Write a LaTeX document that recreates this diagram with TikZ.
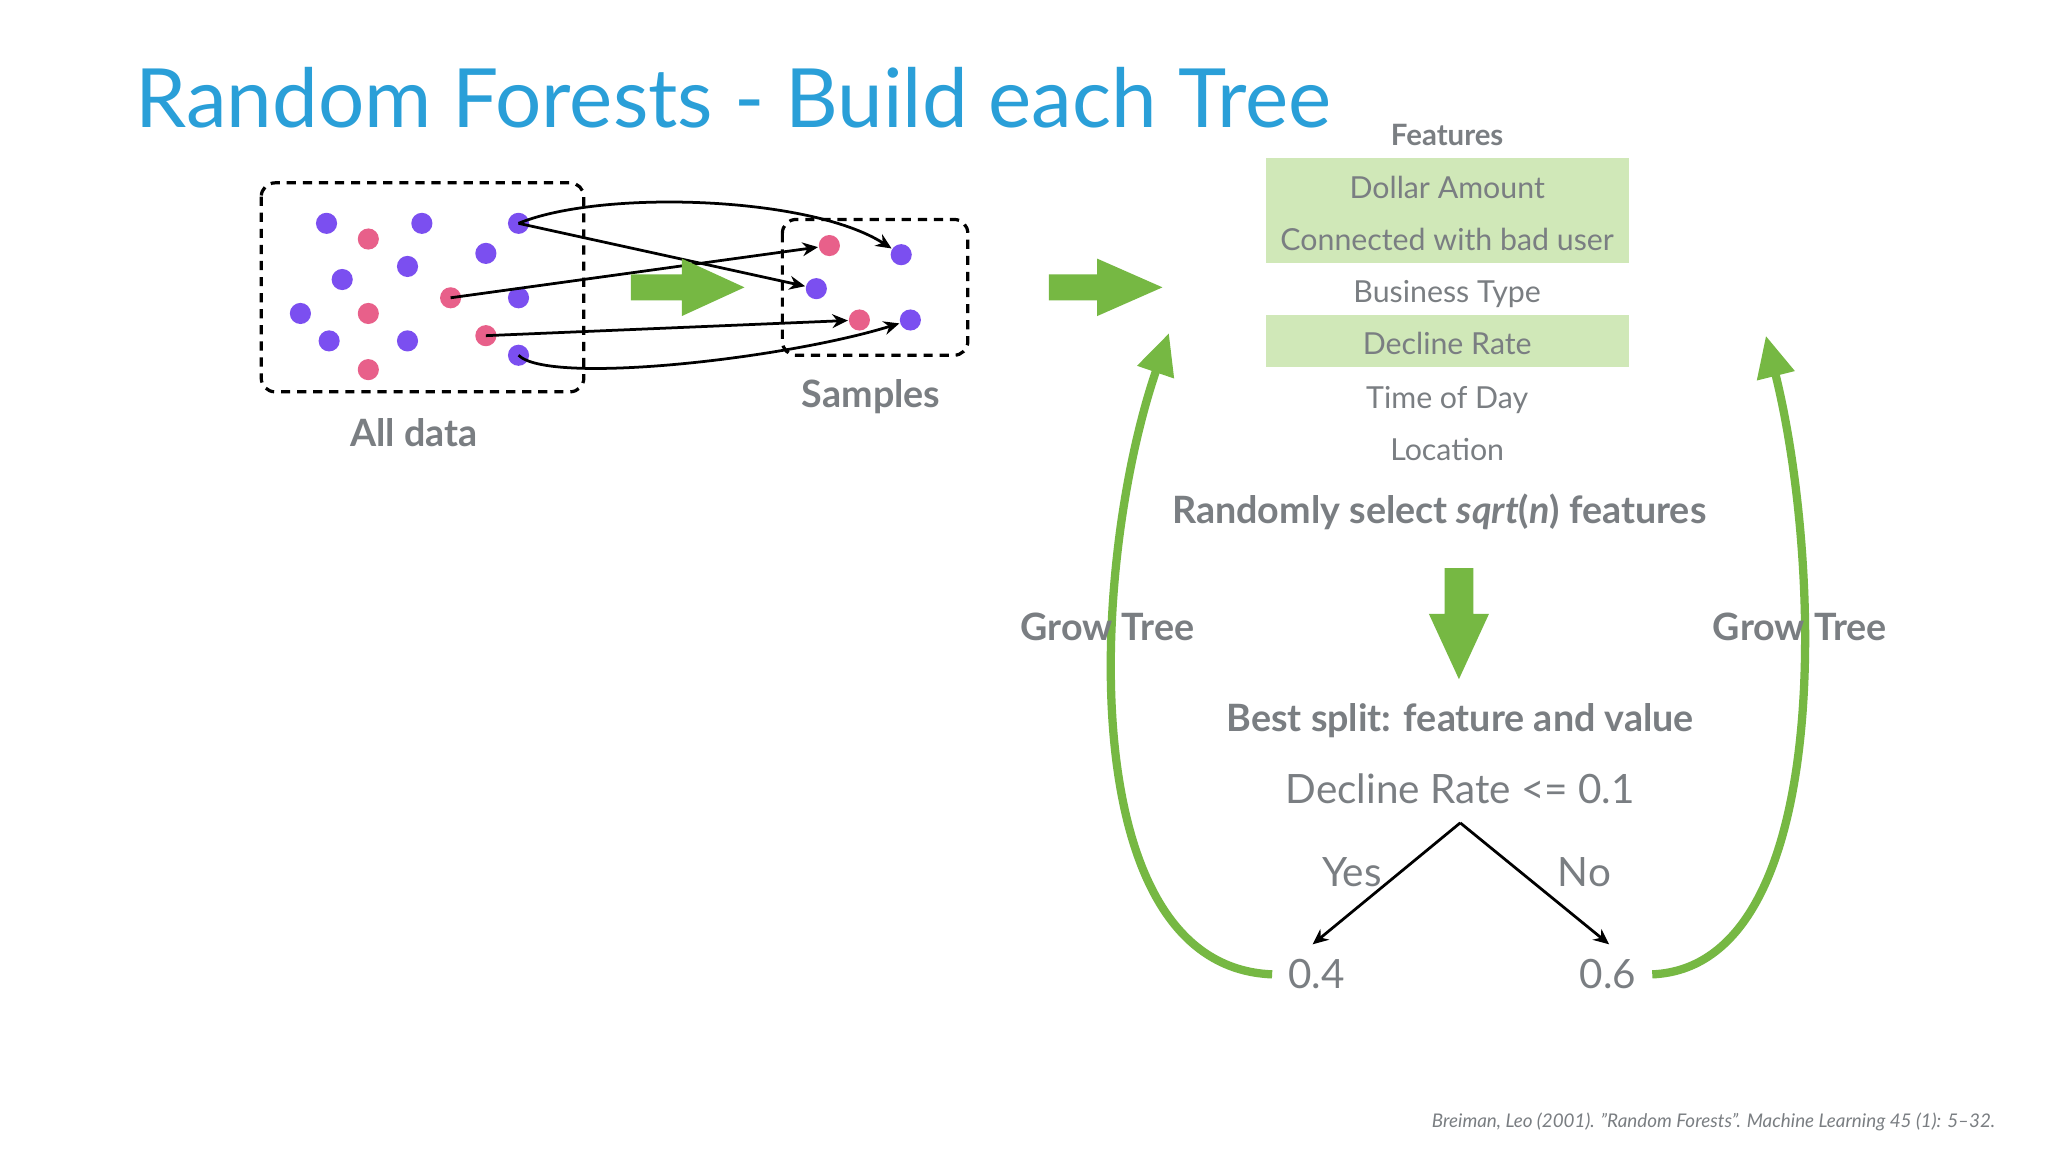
\documentclass[tikz,border=0pt]{standalone}
\usepackage{fontspec}
\setmainfont{Lato}
\usetikzlibrary{arrows.meta}
\definecolor{pur}{HTML}{7B4FF0}
\definecolor{pnk}{HTML}{E8608A}
\definecolor{grn}{HTML}{76B843}
\definecolor{lgrn}{HTML}{D0E8B8}
\definecolor{gtx}{HTML}{7A7E82}
\definecolor{ttl}{HTML}{2A9FD8}
\begin{document}
\begin{tikzpicture}[x=0.01cm,y=-0.01cm,
 pd/.style={circle,fill=pur,inner sep=0,minimum size=4.6pt},
 pk/.style={circle,fill=pnk,inner sep=0,minimum size=4.6pt},
 arr/.style={-{Stealth[length=3.4pt,width=3pt]},line width=0.6pt},
 lab/.style={text=gtx,font=\fontsize{8.2}{9}\selectfont\bfseries},
 feat/.style={text=gtx,font=\fontsize{6.6}{7}\selectfont,minimum width=79pt,minimum height=11.4pt,inner sep=0,text height=1.6ex,text depth=0.4ex},
 big/.style={text=gtx,font=\fontsize{8.8}{10}\selectfont},
 garr/.style={grn,line width=1.8pt,-{Triangle[length=9pt,width=8pt]}},
 ]
\useasboundingbox (0,0) rectangle (1568,882);
\fill[white] (0,0) rectangle (1568,882);
\node[text=ttl,font=\fontsize{17.8}{20}\selectfont,anchor=west,inner sep=0] (title) at (103,75) {Random Forests - Build each Tree};
% boxes
\draw[dashed,line width=0.7pt,dash pattern=on 2pt off 1.5pt,rounded corners=3pt] (200,140) rectangle (447,300);
\draw[dashed,line width=0.7pt,dash pattern=on 2pt off 1.5pt,rounded corners=3pt] (599,168) rectangle (741,272);
\node[lab] (alld) at (317,331) {All data};
\node[lab] (samp) at (667,304) {Samples};
% dots
\foreach \n/\x/\y in {a1/250/171,a2/323/171,a3/312/204,a4/372/194,a5/262/214,a6/230/240,a7/252/261,a8/312/261,a9/397/171,a10/397/228,a11/397/272}
  \node[pd] (\n) at (\x,\y) {};
\foreach \n/\x/\y in {b1/282/183,b2/282/240,b3/282/283,b4/345/228,b5/372/257}
  \node[pk] (\n) at (\x,\y) {};
\node[pk] (s1) at (635,188) {};
\node[pk] (s2) at (658,245) {};
\node[pd] (s3) at (690,195) {};
\node[pd] (s4) at (625,221) {};
\node[pd] (s5) at (697,245) {};
\draw[arr] (a9.center) .. controls (460,145) and (620,150) .. (s3);
\draw[arr] (a9.center) -- (s4);
\draw[arr] (b4.center) -- (s1);
\draw[arr] (b5.center) -- (s2);
\draw[arr] (a11.center) .. controls (420,295) and (600,275) .. (s5);
% green block arrows
\fill[grn] (483,210) -- (522,210) -- (522,198) -- (570,220) -- (522,242) -- (522,230) -- (483,230) -- cycle;
\fill[grn] (803,210) -- (840,210) -- (840,198) -- (890,220) -- (840,242) -- (840,230) -- (803,230) -- cycle;
\fill[grn] (1106,435) -- (1128,435) -- (1128,470) -- (1140,470) -- (1117,520) -- (1094,470) -- (1106,470) -- cycle;
% features
\node[text=gtx,font=\fontsize{6.4}{7}\selectfont\bfseries] (fh) at (1108,103) {Features};
\node[feat,fill=lgrn] (f1) at (1108,141) {Dollar Amount};
\node[feat,fill=lgrn] (f2) at (1108,181) {Connected with bad user};
\node[feat] (f3) at (1108,221) {Business Type};
\node[feat,fill=lgrn] (f4) at (1108,261) {Decline Rate};
\node[feat] (f5) at (1108,302) {Time of Day};
\node[feat] (f6) at (1108,342) {Location};
\node[lab] (rs) at (1102,392) {Randomly select \textit{sqrt}(\textit{n}) features};
\node[lab] (bs) at (1118,552) {Best split: feature and value};
\node[big] (dr) at (1118,604) {Decline Rate <= 0.1};
\coordinate (top) at (1118,630);
\node[big] (l) at (1008,746) {0.4};
\node[big] (r) at (1231,746) {0.6};
\draw[-{Stealth[length=3.4pt,width=3pt]},line width=0.6pt] (top) -- (1005,723);
\draw[-{Stealth[length=3.4pt,width=3pt]},line width=0.6pt] (top) -- (1232,723);
\node[big] (yes) at (1035,668) {Yes};
\node[big] (no) at (1213,668) {No};
% grow tree arrows
\draw[garr] (l.west) .. controls (820,740) and (835,430) .. (895,255);
\draw[garr] (r.east) .. controls (1405,740) and (1395,430) .. (1352,257);
\node[lab] (g1) at (848,480) {Grow Tree};
\node[lab] (g2) at (1378,480) {Grow Tree};
\node[text=gtx,font=\fontsize{4.1}{5}\selectfont\itshape,anchor=east] (cite) at (1540,859) {Breiman, Leo (2001). "Random Forests". Machine Learning 45 (1): 5--32.};
\end{tikzpicture}
\end{document}
